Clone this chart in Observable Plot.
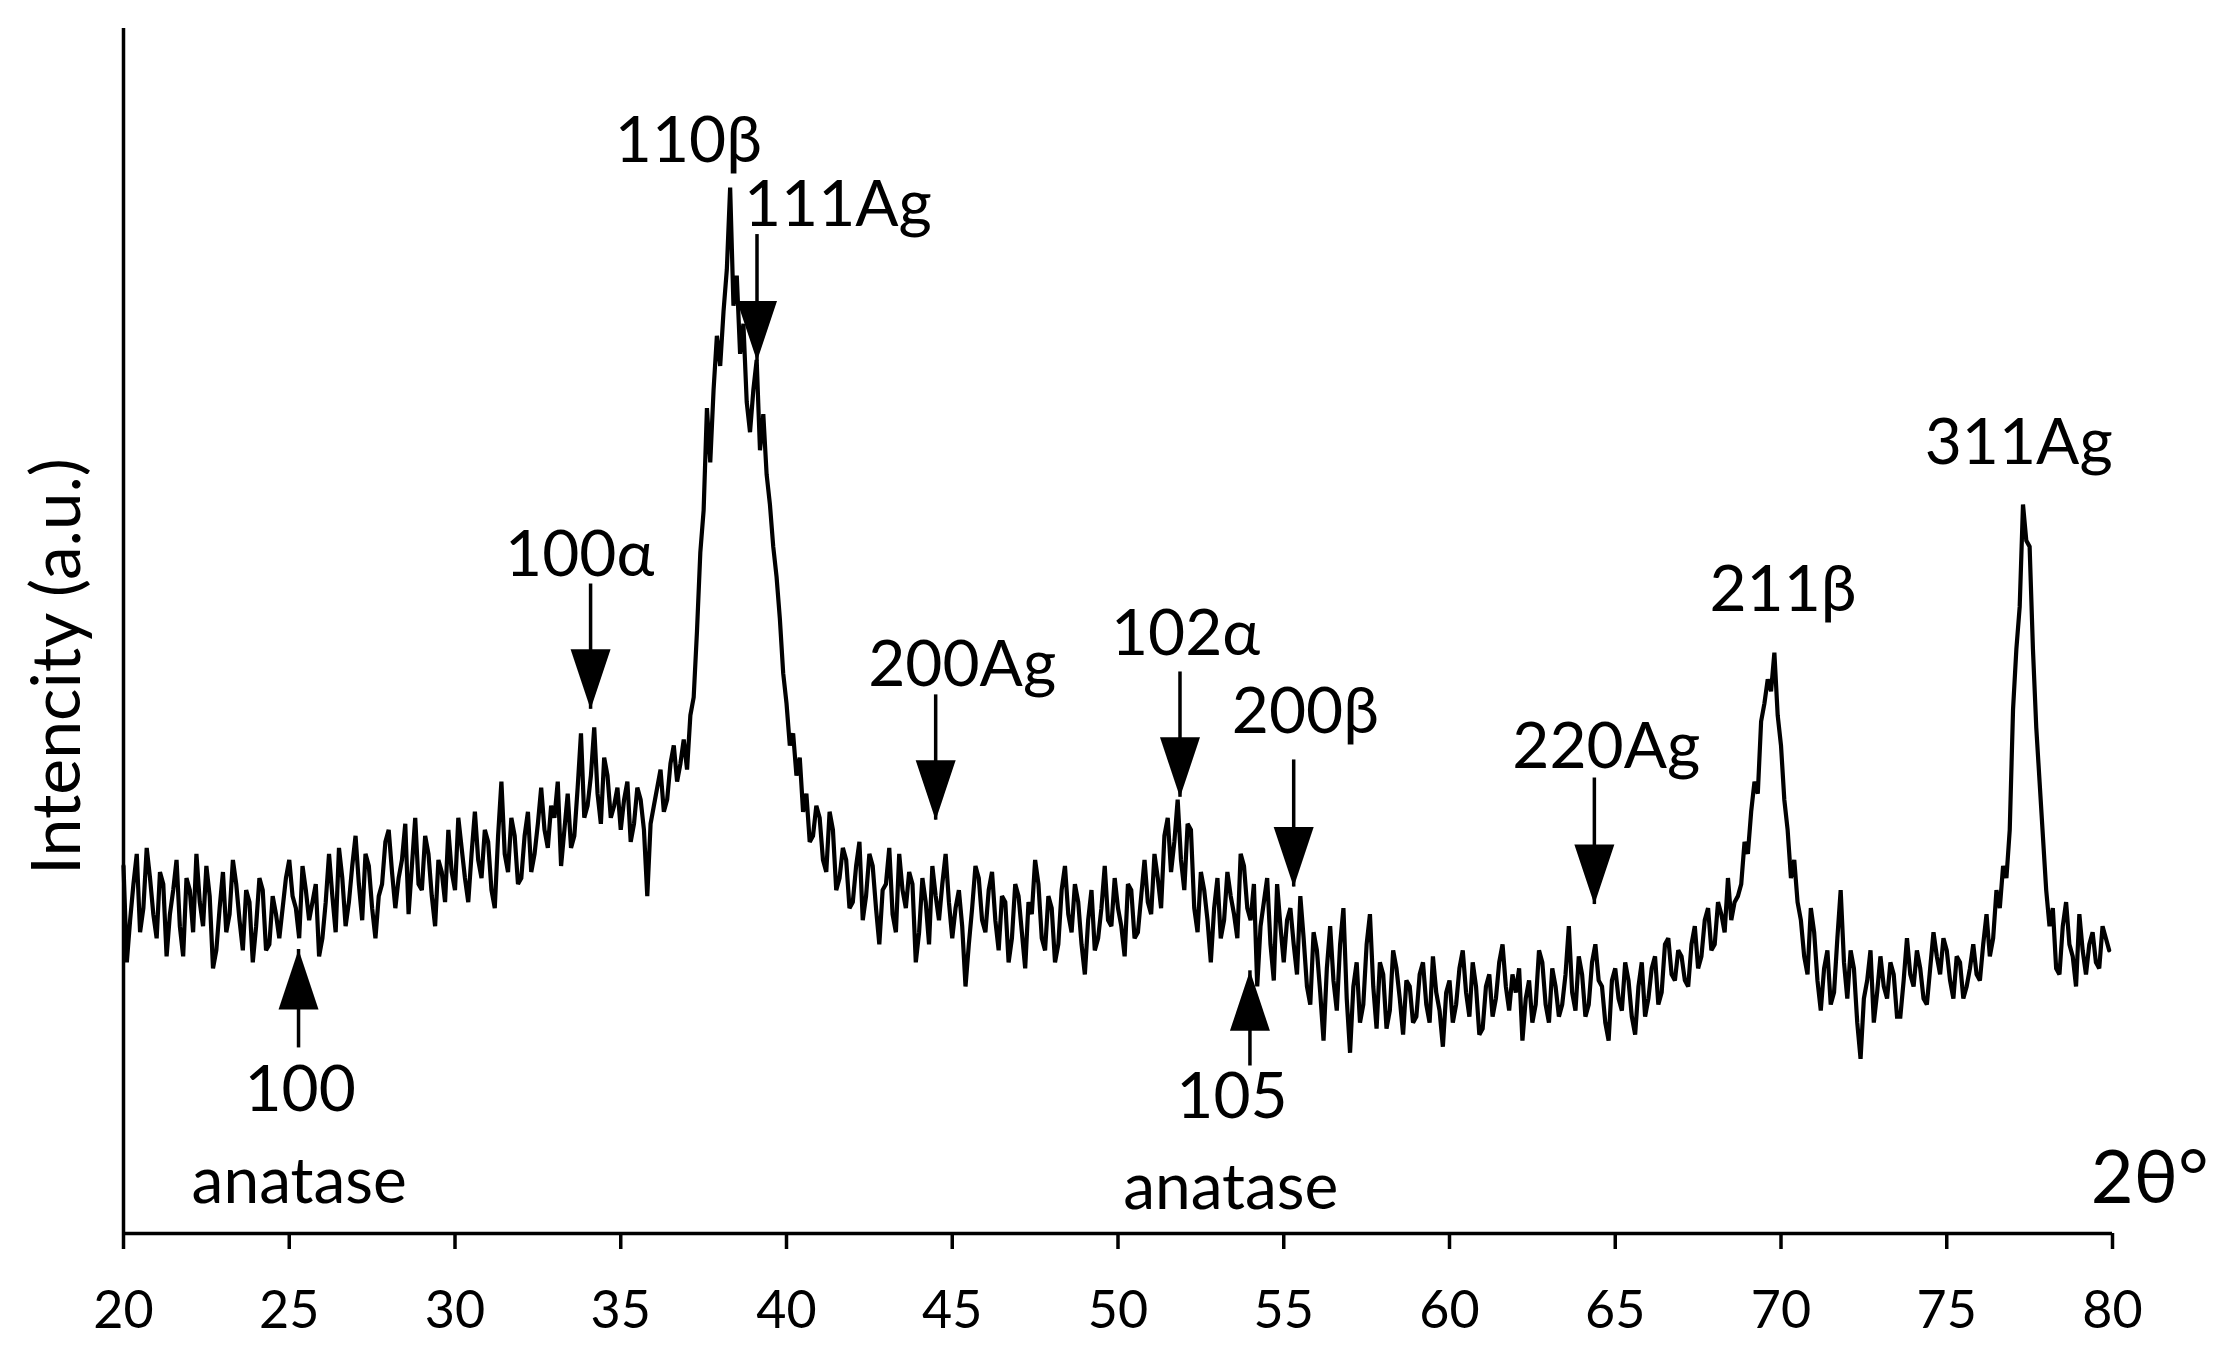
<!DOCTYPE html>
<html>
<head>
<meta charset="utf-8">
<script src="https://cdn.jsdelivr.net/npm/d3@7"></script>
<script src="https://cdn.jsdelivr.net/npm/@observablehq/plot@0.6"></script>
<style>
  html, body { margin: 0; padding: 0; background: #fff; }
  #chart svg { display: block; }
</style>
</head>
<body>
<div id="chart"></div>
<script>
// ---- XRD scan: 2θ (degrees) ----
const twoTheta = [
  20.0,20.1,20.2,20.3,20.4,20.5,20.6,20.7,20.8,20.9,
  21.0,21.1,21.2,21.3,21.4,21.5,21.6,21.7,21.8,21.9,
  22.0,22.1,22.2,22.3,22.4,22.5,22.6,22.7,22.8,22.9,
  23.0,23.1,23.2,23.3,23.4,23.5,23.6,23.7,23.8,23.9,
  24.0,24.1,24.2,24.3,24.4,24.5,24.6,24.7,24.8,24.9,
  25.0,25.1,25.2,25.3,25.4,25.5,25.6,25.7,25.8,25.9,
  26.0,26.1,26.2,26.3,26.4,26.5,26.6,26.7,26.8,26.9,
  27.0,27.1,27.2,27.3,27.4,27.5,27.6,27.7,27.8,27.9,
  28.0,28.1,28.2,28.3,28.4,28.5,28.6,28.7,28.8,28.9,
  29.0,29.1,29.2,29.3,29.4,29.5,29.6,29.7,29.8,29.9,
  30.0,30.1,30.2,30.3,30.4,30.5,30.6,30.7,30.8,30.9,
  31.0,31.1,31.2,31.3,31.4,31.5,31.6,31.7,31.8,31.9,
  32.0,32.1,32.2,32.3,32.4,32.5,32.6,32.7,32.8,32.9,
  33.0,33.1,33.2,33.3,33.4,33.5,33.6,33.7,33.8,33.9,
  34.0,34.1,34.2,34.3,34.4,34.5,34.6,34.7,34.8,34.9,
  35.0,35.1,35.2,35.3,35.4,35.5,35.6,35.7,35.8,35.9,
  36.0,36.1,36.2,36.3,36.4,36.5,36.6,36.7,36.8,36.9,
  37.0,37.1,37.2,37.3,37.4,37.5,37.6,37.7,37.8,37.9,
  38.0,38.1,38.2,38.3,38.4,38.5,38.6,38.7,38.8,38.9,
  39.0,39.1,39.2,39.3,39.4,39.5,39.6,39.7,39.8,39.9,
  40.0,40.1,40.2,40.3,40.4,40.5,40.6,40.7,40.8,40.9,
  41.0,41.1,41.2,41.3,41.4,41.5,41.6,41.7,41.8,41.9,
  42.0,42.1,42.2,42.3,42.4,42.5,42.6,42.7,42.8,42.9,
  43.0,43.1,43.2,43.3,43.4,43.5,43.6,43.7,43.8,43.9,
  44.0,44.1,44.2,44.3,44.4,44.5,44.6,44.7,44.8,44.9,
  45.0,45.1,45.2,45.3,45.4,45.5,45.6,45.7,45.8,45.9,
  46.0,46.1,46.2,46.3,46.4,46.5,46.6,46.7,46.8,46.9,
  47.0,47.1,47.2,47.3,47.4,47.5,47.6,47.7,47.8,47.9,
  48.0,48.1,48.2,48.3,48.4,48.5,48.6,48.7,48.8,48.9,
  49.0,49.1,49.2,49.3,49.4,49.5,49.6,49.7,49.8,49.9,
  50.0,50.1,50.2,50.3,50.4,50.5,50.6,50.7,50.8,50.9,
  51.0,51.1,51.2,51.3,51.4,51.5,51.6,51.7,51.8,51.9,
  52.0,52.1,52.2,52.3,52.4,52.5,52.6,52.7,52.8,52.9,
  53.0,53.1,53.2,53.3,53.4,53.5,53.6,53.7,53.8,53.9,
  54.0,54.1,54.2,54.3,54.4,54.5,54.6,54.7,54.8,54.9,
  55.0,55.1,55.2,55.3,55.4,55.5,55.6,55.7,55.8,55.9,
  56.0,56.1,56.2,56.3,56.4,56.5,56.6,56.7,56.8,56.9,
  57.0,57.1,57.2,57.3,57.4,57.5,57.6,57.7,57.8,57.9,
  58.0,58.1,58.2,58.3,58.4,58.5,58.6,58.7,58.8,58.9,
  59.0,59.1,59.2,59.3,59.4,59.5,59.6,59.7,59.8,59.9,
  60.0,60.1,60.2,60.3,60.4,60.5,60.6,60.7,60.8,60.9,
  61.0,61.1,61.2,61.3,61.4,61.5,61.6,61.7,61.8,61.9,
  62.0,62.1,62.2,62.3,62.4,62.5,62.6,62.7,62.8,62.9,
  63.0,63.1,63.2,63.3,63.4,63.5,63.6,63.7,63.8,63.9,
  64.0,64.1,64.2,64.3,64.4,64.5,64.6,64.7,64.8,64.9,
  65.0,65.1,65.2,65.3,65.4,65.5,65.6,65.7,65.8,65.9,
  66.0,66.1,66.2,66.3,66.4,66.5,66.6,66.7,66.8,66.9,
  67.0,67.1,67.2,67.3,67.4,67.5,67.6,67.7,67.8,67.9,
  68.0,68.1,68.2,68.3,68.4,68.5,68.6,68.7,68.8,68.9,
  69.0,69.1,69.2,69.3,69.4,69.5,69.6,69.7,69.8,69.9,
  70.0,70.1,70.2,70.3,70.4,70.5,70.6,70.7,70.8,70.9,
  71.0,71.1,71.2,71.3,71.4,71.5,71.6,71.7,71.8,71.9,
  72.0,72.1,72.2,72.3,72.4,72.5,72.6,72.7,72.8,72.9,
  73.0,73.1,73.2,73.3,73.4,73.5,73.6,73.7,73.8,73.9,
  74.0,74.1,74.2,74.3,74.4,74.5,74.6,74.7,74.8,74.9,
  75.0,75.1,75.2,75.3,75.4,75.5,75.6,75.7,75.8,75.9,
  76.0,76.1,76.2,76.3,76.4,76.5,76.6,76.7,76.8,76.9,
  77.0,77.1,77.2,77.3,77.4,77.5,77.6,77.7,77.8,77.9,
  78.0,78.1,78.2,78.3,78.4,78.5,78.6,78.7,78.8,78.9,
  79.0,79.1,79.2,79.3,79.4,79.5,79.6,79.7,79.8,79.9
];

// ---- Intensity (a.u.), one row per degree ----
const intensity = [
  30.5,22.5,26.0,29.0,31.5,25.0,27.0,32.0,29.5,26.5,
  24.5,30.0,29.0,23.0,26.5,28.5,31.0,25.5,23.0,29.5,
  28.5,25.0,31.5,27.5,25.5,30.5,28.0,22.0,23.5,27.0,
  30.0,25.0,26.5,31.0,29.0,26.0,23.5,28.5,27.5,22.5,
  25.5,29.5,28.5,23.5,24.0,28.0,26.5,24.5,27.0,29.5,
  31.0,28.0,27.0,24.5,30.5,28.5,26.0,27.5,29.0,23.0,
  24.5,27.5,31.5,28.0,25.0,32.0,29.5,25.5,27.5,30.5,
  33.0,29.0,26.0,31.5,30.5,27.0,24.5,28.0,29.0,32.5,
  33.5,30.0,27.0,29.5,31.0,34.0,26.5,30.5,34.5,29.0,
  28.5,33.0,31.5,28.0,25.5,31.0,30.0,27.5,33.5,30.0,
  28.5,34.5,32.0,29.5,27.5,31.5,35.0,31.0,29.5,33.5,
  32.5,28.5,27.0,33.0,37.5,31.5,30.0,34.5,33.0,29.0,
  29.5,33.0,35.0,30.0,31.5,34.0,37.0,33.5,32.0,35.5,
  34.5,37.5,30.5,33.5,36.5,32.0,33.0,37.0,41.5,34.5,
  35.5,38.0,42.0,36.5,34.0,39.5,38.0,34.5,35.5,37.0,
  33.5,36.0,37.5,32.5,34.0,37.0,36.0,33.5,28.0,34.0,
  35.5,37.0,38.5,35.0,36.0,39.0,40.5,37.5,39.0,41.0,
  38.5,43.0,44.5,50.0,56.5,60.0,68.5,64.0,70.0,74.5,
  72.0,76.5,80.0,86.8,77.0,79.5,73.0,75.5,69.0,66.5,
  70.0,72.5,65.0,68.0,63.0,60.5,57.0,54.5,51.0,46.5,
  44.0,40.5,41.5,38.0,39.5,35.0,36.5,32.5,33.0,35.5,
  34.5,31.0,30.0,35.0,33.5,28.5,29.5,32.0,31.0,27.0,
  27.5,30.5,32.5,26.0,28.0,31.5,30.5,27.0,24.0,28.5,
  29.0,32.0,26.5,25.0,31.5,28.5,27.0,30.0,29.0,22.5,
  25.0,29.5,27.5,24.0,30.5,28.0,26.0,29.0,31.5,27.5,
  24.5,27.0,28.5,25.5,20.5,24.0,27.0,30.5,29.5,26.0,
  25.0,28.5,30.0,26.0,23.5,28.0,27.5,22.5,24.5,29.0,
  28.0,25.0,22.0,27.5,26.5,31.0,29.0,24.5,23.5,28.0,
  27.0,22.5,24.0,28.5,30.5,26.5,25.0,29.0,27.5,24.0,
  21.5,26.0,28.5,23.5,24.5,27.0,30.5,26.0,25.5,29.5,
  27.0,25.5,23.0,29.0,28.5,24.5,25.0,28.0,31.0,27.5,
  26.5,31.5,29.5,27.0,33.0,34.5,30.0,32.5,36.0,31.0,
  28.5,34.0,33.5,27.0,25.0,30.0,28.5,26.0,22.5,27.0,
  29.5,24.5,26.0,30.0,28.0,26.5,24.5,31.5,30.5,27.0,
  26.0,29.0,20.5,25.5,27.5,29.5,24.0,21.0,29.0,25.5,
  22.5,26.0,27.0,24.0,21.5,28.0,24.5,20.5,19.0,25.0,
  23.5,20.0,16.0,22.0,25.5,21.0,18.5,24.0,27.0,19.5,
  15.0,20.5,22.5,17.5,19.0,24.0,26.5,20.5,17.0,22.5,
  21.5,17.0,18.5,23.5,22.0,19.5,16.5,21.0,20.5,17.5,
  18.0,21.5,22.5,19.0,17.5,23.0,20.0,18.5,15.5,20.0,
  21.0,17.5,19.0,22.0,23.5,20.0,18.0,22.5,20.5,16.5,
  17.0,20.5,21.5,18.0,19.5,22.5,24.0,20.5,18.5,21.5,
  20.0,22.0,16.0,19.5,21.0,17.5,19.0,23.5,22.5,19.0,
  17.5,22.0,20.5,18.0,19.0,21.5,25.5,20.0,18.5,23.0,
  21.5,18.0,19.0,22.5,24.0,21.0,20.5,17.5,16.0,21.0,
  22.0,19.5,18.5,22.5,21.0,18.0,16.5,20.5,22.5,18.0,
  19.5,22.0,23.0,19.0,20.0,24.0,24.5,21.5,21.0,23.5,
  23.0,21.0,20.5,24.0,25.5,22.0,23.0,26.0,27.0,23.5,
  24.0,27.5,26.5,25.0,29.5,26.0,27.5,28.0,29.0,32.5,
  31.5,35.0,37.5,36.5,42.5,44.0,46.0,45.0,48.2,43.0,
  40.5,36.0,33.5,29.5,31.0,27.5,26.0,23.0,21.5,27.0,
  25.0,21.0,18.5,22.0,23.5,19.0,20.0,24.5,28.5,22.5,
  19.5,23.5,22.0,17.5,14.5,19.5,21.0,23.5,17.5,20.0,
  23.0,20.5,19.5,22.5,21.5,18.0,18.0,21.0,24.5,21.5,
  20.5,23.5,22.0,19.5,19.0,22.0,25.0,23.0,21.5,24.5,
  23.5,21.0,19.5,23.0,22.5,19.5,20.5,22.0,24.0,21.5,
  21.0,24.0,26.5,23.0,24.5,28.5,27.0,30.5,29.5,33.5,
  43.5,48.5,52.0,60.5,57.5,57.0,48.5,42.0,37.5,33.0,
  28.5,25.5,27.0,22.0,21.5,25.5,27.5,24.0,23.0,20.5,
  26.5,23.5,21.5,24.0,25.0,22.5,22.0,25.5,24.5,23.5
];

const xTicks = [20, 25, 30, 35, 40, 45, 50, 55, 60, 65, 70, 75, 80];

// ---- Peak labels (text, 2θ of text centre, intensity of text baseline) ----
const peakLabels = ["110β", "111Ag", "100α", "200Ag", "102α", "200β", "220Ag", "211β", "311Ag"];
const peakLabelX = [37.04, 41.55, 33.76, 45.3, 52.04, 55.65, 64.73, 70.06, 77.17];
const peakLabelY = [88.96, 83.57, 54.6, 45.4, 47.97, 41.5, 38.6, 51.7, 63.9];

// ---- Downward arrows (2θ, tail intensity, tip intensity) ----
const downArrowX    = [34.09, 39.11, 44.5, 51.87, 55.3, 64.37];
const downArrowTail = [53.9, 82.9, 44.7, 46.6, 39.3, 37.8];
const downArrowTip  = [43.5, 72.4, 34.3, 36.2, 28.75, 27.3];

// ---- Upward arrows for anatase reflections ----
const upArrowX    = [25.28, 53.98];
const upArrowTail = [15.4, 13.9];
const upArrowTip  = [23.57, 21.8];

// ---- Anatase labels below ----
const anataseLabels = ["100", "anatase", "105", "anatase"];
const anataseLabelX = [25.33, 25.3, 53.44, 53.4];
const anataseLabelY = [10.16, 2.57, 9.6, 2.0];

const yTitle = "Intencity (a.u.)";
const xTitle = "2θ°";

// ---- build tables ----
const scan = twoTheta.map((t, i) => ({t, v: intensity[i]}));
const peaks = peakLabels.map((s, i) => ({s, x: peakLabelX[i], y: peakLabelY[i]}));
const downs = downArrowX.map((x, i) => ({x, tail: downArrowTail[i], tip: downArrowTip[i]}));
const ups = upArrowX.map((x, i) => ({x, tail: upArrowTail[i], tip: upArrowTip[i]}));
const anat = anataseLabels.map((s, i) => ({s, x: anataseLabelX[i], y: anataseLabelY[i]}));

// arrowhead shapes (tip at the symbol origin)
const HEAD_W = 20, HEAD_H = 60;
const downHead = {draw(ctx) { ctx.moveTo(-HEAD_W, -HEAD_H); ctx.lineTo(HEAD_W, -HEAD_H); ctx.lineTo(0, 0); ctx.closePath(); }};
const upHead = {draw(ctx) { ctx.moveTo(-HEAD_W, HEAD_H); ctx.lineTo(HEAD_W, HEAD_H); ctx.lineTo(0, 0); ctx.closePath(); }};

const chart = Plot.plot({
  width: 2223,
  height: 1367,
  marginLeft: 123,
  marginRight: 111,
  marginTop: 28,
  marginBottom: 134,
  style: {fontFamily: "Lato, 'Open Sans', sans-serif", background: "#fff", color: "#000"},
  x: {domain: [20, 80]},
  y: {domain: [0, 100], axis: null},
  marks: [
    Plot.axisX({ticks: xTicks, tickSize: 16, tickPadding: 42, fontSize: 52, strokeWidth: 3.5, label: null}),
    Plot.ruleY([0], {strokeWidth: 3.5}),
    Plot.ruleX([20], {y1: 0, y2: 100, strokeWidth: 3.5}),
    Plot.line(scan, {x: "t", y: "v", stroke: "#000", strokeWidth: 4.2, strokeLinejoin: "miter", strokeMiterlimit: 3}),
    Plot.ruleX(downs, {x: "x", y1: "tail", y2: "tip", strokeWidth: 3.5}),
    Plot.dot(downs, {x: "x", y: "tip", symbol: downHead, r: 1, fill: "#000", stroke: "none"}),
    Plot.ruleX(ups, {x: "x", y1: "tail", y2: "tip", strokeWidth: 3.5}),
    Plot.dot(ups, {x: "x", y: "tip", symbol: upHead, r: 1, fill: "#000", stroke: "none"}),
    Plot.text(peaks, {x: "x", y: "y", text: "s", fontSize: 64, textAnchor: "middle", lineAnchor: "bottom", fill: "#000"}),
    Plot.text(anat, {x: "x", y: "y", text: "s", fontSize: 64, textAnchor: "middle", lineAnchor: "bottom", fill: "#000"}),
    Plot.text([xTitle], {x: 82.9, y: 2.57, text: d => d, fontSize: 74, textAnchor: "end", lineAnchor: "bottom", fill: "#000"}),
    Plot.text([yTitle], {x: 18.7, y: 47.05, text: d => d, fontSize: 68, rotate: -90, textAnchor: "middle", lineAnchor: "bottom", fill: "#000"})
  ]
});

document.getElementById("chart").appendChild(chart);
</script>
</body>
</html>
